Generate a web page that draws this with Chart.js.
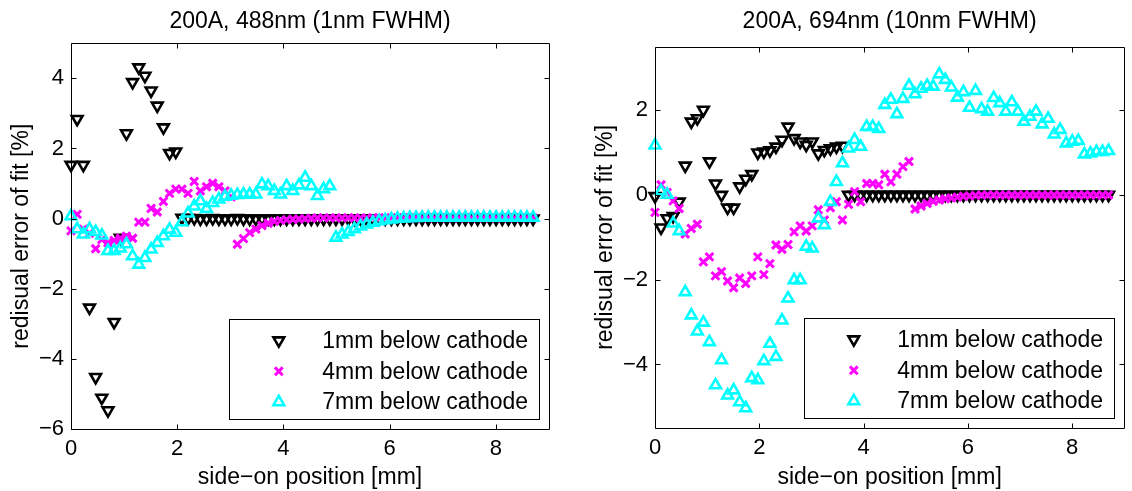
<!DOCTYPE html>
<html>
<head>
<meta charset="utf-8">
<title>Residual error of fit</title>
<script src="https://cdn.jsdelivr.net/npm/chart.js@4.4.1/dist/chart.umd.min.js"></script>
<style>
  html, body { margin: 0; padding: 0; background: #fff; overflow: hidden; }
  body { width: 1132px; height: 491px; position: relative; }
  .panel { position: absolute; top: 0; }
  #left { left: 0; }
  #right { left: 585px; }
</style>
</head>
<body>
<div class="panel" id="left"><canvas id="chart488" width="566" height="491"></canvas></div>
<div class="panel" id="right"><canvas id="chart694" width="548" height="491"></canvas></div>
<script>
// side-on positions [mm], same grid for every series
const positions = [
  0, 0.116, 0.232, 0.348, 0.464, 0.58, 0.696, 0.812, 0.928, 1.044,
  1.16, 1.276, 1.392, 1.508, 1.624, 1.74, 1.856, 1.972, 2.088, 2.204,
  2.32, 2.436, 2.552, 2.668, 2.784, 2.9, 3.016, 3.132, 3.248, 3.364,
  3.48, 3.596, 3.712, 3.828, 3.944, 4.06, 4.176, 4.292, 4.408, 4.524,
  4.64, 4.756, 4.872, 4.988, 5.104, 5.22, 5.336, 5.452, 5.568, 5.684,
  5.8, 5.916, 6.032, 6.148, 6.264, 6.38, 6.496, 6.612, 6.728, 6.844,
  6.96, 7.076, 7.192, 7.308, 7.424, 7.54, 7.656, 7.772, 7.888, 8.004,
  8.12, 8.236, 8.352, 8.468, 8.584, 8.7
];

const seriesLabels = ['1mm below cathode', '4mm below cathode', '7mm below cathode'];

const xTicks = [0, 2, 4, 6, 8];
const yTicks488 = [-6, -4, -2, 0, 2, 4];
const yTicks694 = [-4, -2, 0, 2];

// 488nm line, residuals [%]
const res488_1mm = [
  1.53, 2.84, 1.53, -2.54, -4.52, -5.11, -5.47, -2.95, -0.55, 2.43,
  3.89, 4.31, 4.07, 3.65, 3.22, 2.60, 1.87, 1.91, 0.02, 0.01,
  0.01, 0.00, 0.00, 0.01, 0.00, 0.00, 0.00, 0.01, 0.00, 0.00,
  0.00, 0.00, 0.00, 0.00, 0.00, 0.00, 0.00, 0.00, 0.00, 0.00,
  0.00, 0.00, 0.00, 0.00, 0.00, 0.00, 0.00, 0.00, 0.00, 0.00,
  0.00, 0.00, 0.00, 0.00, 0.00, 0.00, 0.00, 0.00, 0.00, 0.00,
  0.00, 0.00, 0.00, 0.00, 0.00, 0.00, 0.00, 0.00, 0.00, 0.00,
  0.00, 0.00, 0.00, 0.00, 0.00, 0.00
];
const res488_4mm = [
  -0.35, 0.12, -0.30, -0.42, -0.86, -0.60, -0.69, -0.62, -0.56, -0.50,
  -0.56, -0.10, -0.10, 0.29, 0.19, 0.49, 0.72, 0.84, 0.84, 0.72,
  1.06, 0.79, 0.91, 1.01, 0.91, 0.79, 0.62, -0.73, -0.57, -0.40,
  -0.30, -0.20, -0.13, -0.08, -0.05, -0.03, -0.02, -0.01, 0.00, 0.01,
  0.02, 0.02, 0.02, 0.02, 0.02, 0.02, 0.02, 0.02, 0.02, 0.02,
  0.02, 0.02, 0.02, 0.02, 0.02, 0.02, 0.02, 0.02, 0.02, 0.02,
  0.02, 0.02, 0.02, 0.02, 0.02, 0.02, 0.02, 0.02, 0.02, 0.02,
  0.02, 0.02, 0.02, 0.02, 0.02, 0.02
];
const res488_7mm = [
  0.07, -0.30, -0.45, -0.30, -0.38, -0.48, -0.92, -0.92, -0.85, -0.73,
  -1.07, -1.31, -1.12, -0.88, -0.69, -0.50, -0.31, -0.40, -0.10, 0.15,
  0.35, 0.50, 0.28, 0.45, 0.55, 0.63, 0.66, 0.68, 0.69, 0.69,
  0.69, 0.98, 0.93, 0.79, 0.69, 0.93, 0.79, 0.95, 1.17, 0.93,
  0.65, 0.84, 0.93, -0.54, -0.45, -0.38, -0.30, -0.22, -0.16, -0.11,
  -0.07, -0.04, -0.02, 0.00, 0.01, 0.02, 0.02, 0.03, 0.03, 0.03,
  0.03, 0.03, 0.03, 0.03, 0.03, 0.03, 0.03, 0.03, 0.03, 0.03,
  0.03, 0.03, 0.03, 0.03, 0.03, 0.03
];

// 694nm line, residuals [%]
const res694_1mm = [
  -0.03, -0.77, -0.55, -0.50, -0.16, 0.69, 1.73, 1.81, 2.01, 0.79,
  0.27, 0.00, -0.30, -0.30, 0.20, 0.38, 0.49, 1.00, 1.02, 1.05,
  1.14, 1.30, 1.61, 1.34, 1.26, 1.18, 1.26, 0.98, 1.06, 1.10,
  1.14, 1.16, 0.00, 0.00, 0.00, 0.00, 0.00, 0.00, 0.00, 0.00,
  0.00, 0.00, 0.00, 0.00, 0.00, 0.00, 0.00, 0.00, 0.00, 0.00,
  0.00, 0.00, 0.00, 0.00, 0.00, 0.00, 0.00, 0.00, 0.00, 0.00,
  0.00, 0.00, 0.00, 0.00, 0.00, 0.00, 0.00, 0.00, 0.00, 0.00,
  0.00, 0.00, 0.00, 0.00, 0.00, 0.00
];
const res694_4mm = [
  -0.41, 0.24, 0.06, -0.14, -0.32, -0.92, -0.79, -0.69, -1.58, -1.46,
  -1.91, -1.81, -2.03, -2.19, -1.96, -2.09, -1.91, -1.46, -1.88, -1.62,
  -1.18, -1.28, -1.17, -0.87, -0.73, -0.85, -0.73, -0.35, -0.59, -0.30,
  -0.16, -0.59, -0.22, 0.08, -0.16, 0.27, 0.27, 0.24, 0.49, 0.31,
  0.49, 0.67, 0.79, -0.33, -0.26, -0.20, -0.15, -0.12, -0.09, -0.07,
  -0.05, -0.03, -0.02, -0.01, 0.00, 0.00, 0.00, 0.00, 0.00, 0.00,
  0.00, 0.00, 0.00, 0.00, 0.00, 0.00, 0.00, 0.00, 0.00, 0.00,
  0.00, 0.00, 0.00, 0.00, 0.00, 0.00
];
const res694_7mm = [
  1.17, 0.09, 0.01, -0.67, -0.85, -2.29, -2.84, -3.22, -3.01, -3.47,
  -4.49, -3.90, -4.73, -4.61, -4.89, -5.03, -4.32, -4.37, -3.92, -3.51,
  -3.82, -2.96, -2.44, -2.01, -2.01, -1.22, -1.26, -0.55, -0.71, -0.16,
  0.31, 0.75, 1.10, 1.30, 1.14, 1.61, 1.61, 1.56, 2.13, 2.25,
  1.91, 2.27, 2.58, 2.38, 2.51, 2.58, 2.56, 2.85, 2.72, 2.54,
  2.30, 2.43, 2.06, 2.46, 2.03, 1.97, 2.29, 2.17, 1.97, 2.19,
  1.97, 1.73, 1.85, 1.97, 1.67, 1.80, 1.43, 1.54, 1.22, 1.26,
  1.28, 0.96, 0.98, 1.02, 1.02, 1.04
];

Chart.defaults.font.family = '"Liberation Sans", Arial, Helvetica, sans-serif';
Chart.defaults.color = '#000';

const FONT = { size: 23, weight: 'normal' };
const TICK_FONT = { size: 22, weight: 'normal' };

// marker looks: black down-triangles, magenta crosses, cyan up-triangles
const markers = [
  { color: '#000000', style: 'triangle', rotation: 180, radius: 6.2, width: 2.6 },
  { color: '#ff00ff', style: 'crossRot', rotation: 0, radius: 5.5, width: 3 },
  { color: '#00ffff', style: 'triangle', rotation: 0, radius: 6.2, width: 2.6 }
];

function minusSign(v) {
  return v < 0 ? '\u2212' + Math.abs(v) : String(v);
}

function makeDatasets(series) {
  return series.map((values, i) => ({
    label: seriesLabels[i],
    data: positions.map((x, k) => ({ x: x, y: values[k] })),
    showLine: false,
    pointStyle: markers[i].style,
    pointRotation: markers[i].rotation,
    pointRadius: markers[i].radius,
    pointBorderWidth: markers[i].width,
    borderColor: markers[i].color,
    pointBackgroundColor: 'rgba(0,0,0,0)',
    backgroundColor: 'rgba(0,0,0,0)',
    order: 3 - i,
    clip: false
  }));
}

// box round the axes with short inward ticks on all four sides
const axesBox = {
  id: 'axesBox',
  afterDatasetsDraw(chart) {
    const { ctx, chartArea: a, scales } = chart;
    const len = 5;
    ctx.save();
    ctx.strokeStyle = '#000';
    ctx.lineWidth = 1;
    ctx.beginPath();
    const l = Math.round(a.left) + 0.5, r = Math.round(a.right) + 0.5;
    const t = Math.round(a.top) + 0.5, b = Math.round(a.bottom) + 0.5;
    ctx.rect(l, t, r - l, b - t);
    scales.x.ticks.forEach(tk => {
      const px = Math.round(scales.x.getPixelForValue(tk.value)) + 0.5;
      ctx.moveTo(px, b); ctx.lineTo(px, b - len);
      ctx.moveTo(px, t); ctx.lineTo(px, t + len);
    });
    scales.y.ticks.forEach(tk => {
      const py = Math.round(scales.y.getPixelForValue(tk.value)) + 0.5;
      ctx.moveTo(l, py); ctx.lineTo(l + len, py);
      ctx.moveTo(r, py); ctx.lineTo(r - len, py);
    });
    ctx.stroke();
    ctx.restore();
  }
};

// framed legend in the lower right corner of the axes
const boxLegend = {
  id: 'boxLegend',
  afterDraw(chart) {
    const { ctx, chartArea: a } = chart;
    const w = 310, h = 100;
    const right = Math.round(a.right - 10.5) + 0.5;
    const bottom = Math.round(a.bottom - 10.5) + 0.5;
    const left = right - w, top = bottom - h;
    ctx.save();
    ctx.fillStyle = '#fff';
    ctx.fillRect(left, top, w, h);
    ctx.strokeStyle = '#000';
    ctx.lineWidth = 1;
    ctx.strokeRect(left, top, w, h);
    chart.data.datasets.forEach((ds, i) => {
      const y = top + 21 + i * 30.8;
      ctx.strokeStyle = ds.borderColor;
      ctx.fillStyle = 'rgba(0,0,0,0)';
      ctx.lineWidth = ds.pointBorderWidth;
      Chart.helpers.drawPoint(ctx, {
        pointStyle: ds.pointStyle,
        rotation: ds.pointRotation,
        radius: ds.pointRadius,
        borderWidth: ds.pointBorderWidth
      }, left + 49.3, y);
      ctx.fillStyle = '#000';
      ctx.font = FONT.size + 'px ' + Chart.defaults.font.family;
      ctx.textAlign = 'left';
      ctx.textBaseline = 'middle';
      ctx.fillText(ds.label, left + 92.8, y + 1);
    });
    ctx.restore();
  }
};

function makeChart(canvasId, title, series, yMin, yMax, yTicks, geom) {
  return new Chart(document.getElementById(canvasId), {
    type: 'scatter',
    data: { datasets: makeDatasets(series) },
    options: {
      responsive: false,
      animation: false,
      layout: { padding: { left: 0, right: geom.padRight, top: 0, bottom: 0 } },
      plugins: {
        legend: { display: false },
        tooltip: { enabled: false },
        title: {
          display: true,
          text: title,
          color: '#000',
          fullSize: false,
          font: FONT,
          padding: { top: 8, bottom: geom.titleBottom }
        }
      },
      scales: {
        x: {
          type: 'linear',
          min: 0,
          max: 9,
          afterBuildTicks: s => { s.ticks = xTicks.map(v => ({ value: v })); },
          afterFit: s => { s.height = geom.xHeight; },
          grid: { display: false, drawTicks: false },
          border: { display: false },
          ticks: { padding: geom.xPad, font: TICK_FONT, color: '#000', callback: minusSign },
          title: {
            display: true,
            text: 'side\u2212on position [mm]',
            color: '#000',
            font: FONT,
            padding: { top: 0, bottom: 0 }
          }
        },
        y: {
          type: 'linear',
          min: yMin,
          max: yMax,
          afterBuildTicks: s => { s.ticks = yTicks.map(v => ({ value: v })); },
          afterFit: s => { s.width = geom.yWidth; },
          grid: { display: false, drawTicks: false },
          border: { display: false },
          ticks: { padding: 7, font: TICK_FONT, color: '#000', callback: minusSign },
          title: {
            display: true,
            text: 'redisual error of fit [%]',
            color: '#000',
            font: FONT,
            padding: { top: geom.yTitlePad, bottom: 0 }
          }
        }
      }
    },
    plugins: [axesBox, boxLegend]
  });
}

makeChart('chart488', '200A, 488nm (1nm FWHM)',
  [res488_1mm, res488_4mm, res488_7mm], -6, 5, yTicks488,
  { padRight: 17, titleBottom: 7.7, xHeight: 62, yWidth: 71, xPad: 7, yTitlePad: 7.5 });

makeChart('chart694', '200A, 694nm (10nm FWHM)',
  [res694_1mm, res694_4mm, res694_7mm], -5.5, 3.5, yTicks694,
  { padRight: 0, titleBottom: 11.1, xHeight: 63, yWidth: 70, xPad: 6.5, yTitlePad: 7 });
</script>
</body>
</html>
